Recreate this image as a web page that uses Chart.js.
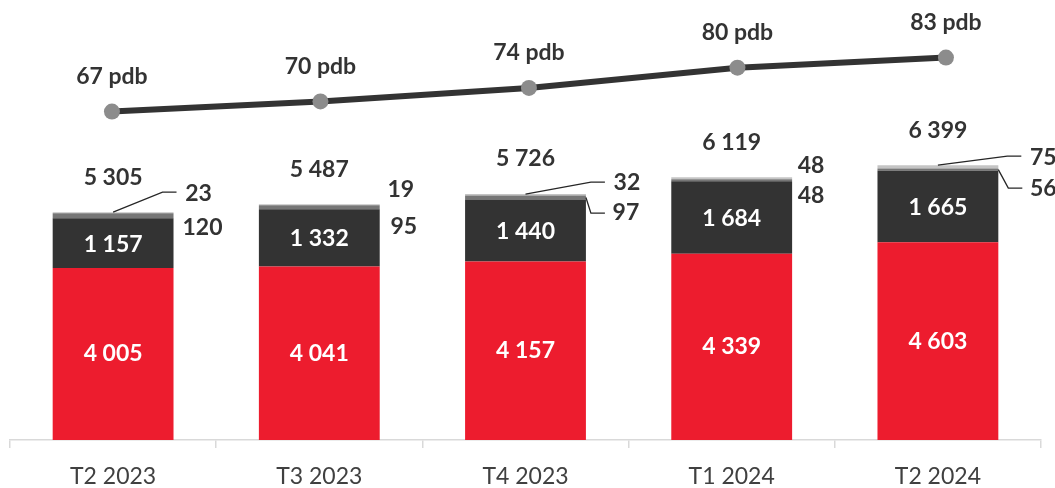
<!DOCTYPE html>
<html>
<head>
<meta charset="utf-8">
<script src="https://cdn.jsdelivr.net/npm/chart.js@4"></script>
<style>
  html, body { margin: 0; padding: 0; background: #fff; }
  #wrap { width: 1055px; height: 488px; }
</style>
</head>
<body>
<div id="wrap"><canvas id="chart"></canvas></div>
<script>
const quarters = ["T2 2023", "T3 2023", "T4 2023", "T1 2024", "T2 2024"];
const redPart = [4005, 4041, 4157, 4339, 4603];
const darkPart = [1157, 1332, 1440, 1684, 1665];
const midPart = [120, 95, 97, 48, 56];
const lightPart = [23, 19, 32, 48, 75];
const totals = [5305, 5487, 5726, 6119, 6399];
const pdb = [67, 70, 74, 80, 83];

// where the two small labels sit, relative to bar right edge / bar top
const smallPos = [
  { top: [25, -19], low: [29, 15], leadTop: true, leadLow: false },
  { top: [21, -15], low: [24, 22], leadTop: false, leadLow: false },
  { top: [41, -11], low: [40, 19], leadTop: true, leadLow: true },
  { top: [19, -12], low: [19, 18], leadTop: false, leadLow: false },
  { top: [45, -8], low: [45, 23], leadTop: true, leadLow: true }
];

const fmt = v => String(v).replace(/\B(?=(\d{3})+(?!\d))/g, " ");
const FONT = "Lato, 'Open Sans', sans-serif";

const labelPlugin = {
  id: "labels",
  afterDraw(chart) {
    const ctx = chart.ctx;
    const red = chart.getDatasetMeta(0).data;
    const dark = chart.getDatasetMeta(1).data;
    const mid = chart.getDatasetMeta(2).data;
    const light = chart.getDatasetMeta(3).data;
    const pts = chart.getDatasetMeta(4).data;
    ctx.save();
    ctx.textAlign = "center";
    ctx.textBaseline = "middle";
    ctx.font = "bold 23px " + FONT;
    ctx.strokeStyle = "#262626";
    ctx.lineWidth = 1.3;

    quarters.forEach((q, i) => {
      // inside labels
      ctx.fillStyle = "#ffffff";
      ctx.fillText(fmt(redPart[i]), red[i].x, (red[i].y + red[i].base) / 2);
      ctx.fillText(fmt(darkPart[i]), dark[i].x, (dark[i].y + dark[i].base) / 2 + 1);

      // totals
      const top = light[i].y;
      ctx.fillStyle = "#333333";
      ctx.fillText(fmt(totals[i]), red[i].x, top - 35);

      // small side labels
      const right = red[i].x + red[i].width / 2;
      const p = smallPos[i];
      const tx = right + p.top[0], ty = top + p.top[1];
      const lx = right + p.low[0], ly = top + p.low[1];
      ctx.fillText(fmt(lightPart[i]), tx, ty);
      ctx.fillText(fmt(midPart[i]), lx, ly);
      if (p.leadTop) {
        ctx.beginPath();
        ctx.moveTo(red[i].x, top);
        ctx.lineTo(tx - 36, ty - 1);
        ctx.lineTo(tx - 22, ty - 1);
        ctx.stroke();
      }
      if (p.leadLow) {
        const my = (mid[i].y + mid[i].base) / 2;
        ctx.beginPath();
        ctx.moveTo(right, my);
        ctx.lineTo(lx - 35, ly);
        ctx.lineTo(lx - 21, ly);
        ctx.stroke();
      }

      // line labels
      ctx.fillText(pdb[i] + " pdb", pts[i].x, pts[i].y - 35);
    });
    ctx.restore();
  }
};

const barSet = (label, data, color) => ({
  type: "bar",
  label: label,
  data: data,
  backgroundColor: color,
  borderWidth: 0,
  categoryPercentage: 1,
  barPercentage: 0.586,
  grouped: false,
  stack: "s",
  order: 1
});

new Chart(document.getElementById("chart"), {
  type: "bar",
  data: {
    labels: quarters,
    datasets: [
      barSet("red", redPart, "#ED1C2E"),
      barSet("dark", darkPart, "#333333"),
      barSet("mid", midPart, "#767676"),
      barSet("light", lightPart, "#C4C4C4"),
      {
        type: "line",
        label: "pdb",
        data: pdb.map((v, i) => ({ x: i, y: v })),
        xAxisID: "x2",
        yAxisID: "y1",
        stack: "s",
        borderColor: "#333333",
        borderWidth: 6,
        pointRadius: 8,
        pointHoverRadius: 8,
        pointBackgroundColor: "#8C8C8C",
        pointBorderWidth: 0,
        order: 0
      }
    ]
  },
  options: {
    responsive: true,
    maintainAspectRatio: false,
    animation: false,
    layout: { padding: { left: 10, right: 14, top: 10, bottom: 0 } },
    plugins: { legend: { display: false }, tooltip: { enabled: false } },
    scales: {
      x: {
        stacked: true,
        border: { color: "#D9D9D9", width: 1.5 },
        grid: { drawOnChartArea: false, drawTicks: true, tickLength: 8, color: "#D9D9D9", lineWidth: 1.5 },
        ticks: { color: "#404040", font: { family: FONT, size: 23 }, padding: 15 },
        afterFit: s => { s.height = 48; }
      },
      x2: { type: "linear", display: false, offset: false, min: -0.489, max: 4.456 },
      y: { stacked: true, display: false, min: 0, max: 10012 },
      y1: { display: false, min: -30.3, max: 97.1 }
    }
  },
  plugins: [labelPlugin]
});
</script>
</body>
</html>
